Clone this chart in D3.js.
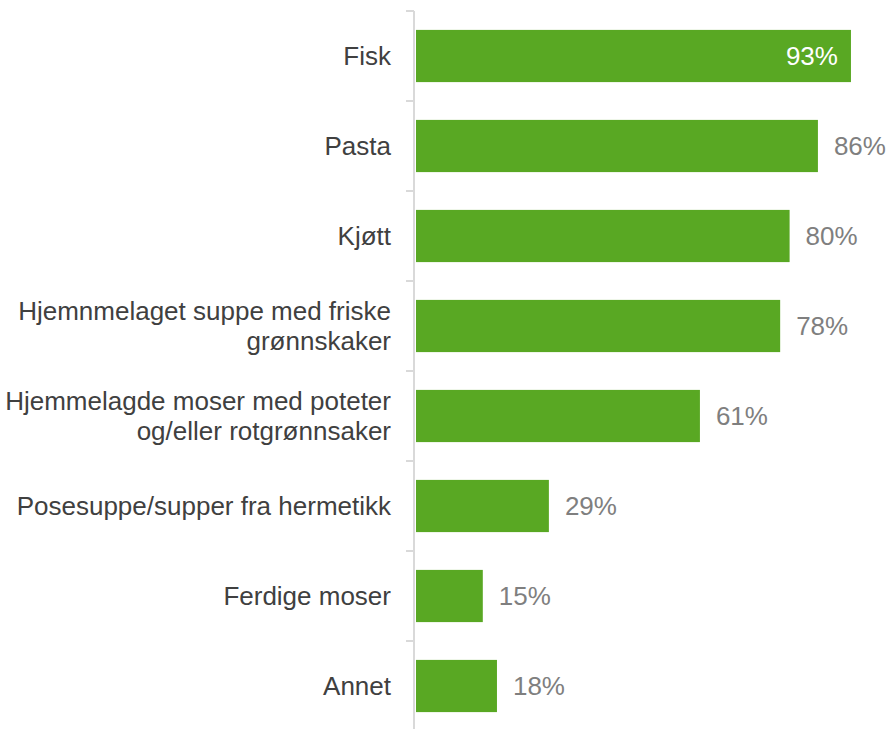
<!DOCTYPE html>
<html>
<head>
<meta charset="utf-8">
<script src="https://cdn.jsdelivr.net/npm/d3@7"></script>
<style>
  html, body { margin: 0; padding: 0; background: #fff; }
  svg { display: block; font-family: "Liberation Sans", Arial, sans-serif; }
</style>
</head>
<body>
<div id="chart"></div>
<script>
// Chart data;
var categories = [
    ["Fisk"],
    ["Pasta"],
    ["Kjøtt"],
    ["Hjemnmelaget suppe med friske", "grønnskaker"],
    ["Hjemmelagde moser med poteter", "og/eller rotgrønnsaker"],
    ["Posesuppe/supper fra hermetikk"],
    ["Ferdige moser"],
    ["Annet"]
]
var values = [93, 86, 80, 78, 61, 29, 15, 18]

// Size of the drawing;
const width = 892
const height = 729
const barColor = "#59a823"
const fontSize = 26

const svg = d3.select("#chart").append("svg")
    .attr("width", width)
    .attr("height", height)

const keys = categories.map((c, i) => i)

const y = d3.scaleBand()
    .domain(keys)
    .range([11, 731])
    .paddingInner(0.42)
    .paddingOuter(0.21)

// Zero sits just under the axis line; bars are drawn from its right edge;
const x = d3.scaleLinear()
    .domain([0, 100])
    .range([412, 884])
const barStart = 416

// Bars;
svg.selectAll("rect.bar")
    .data(values)
    .join("rect")
    .attr("class", "bar")
    .attr("x", barStart)
    .attr("y", (d, i) => y(i))
    .attr("width", d => x(d) - barStart)
    .attr("height", y.bandwidth())
    .attr("fill", barColor)

// Axis line with ticks at band boundaries;
const axisX = 414
svg.append("line")
    .attr("x1", axisX).attr("x2", axisX)
    .attr("y1", y.range()[0]).attr("y2", height)
    .attr("stroke", "#d9d9d9")
    .attr("stroke-width", 2)

const boundaries = keys.map(i => y(i) - y.step() * y.paddingInner() / 2 - (i == 0 ? y.step() * (y.paddingOuter() - y.paddingInner() / 2) : 0))
boundaries.push(y.range()[1])
svg.selectAll("line.tick")
    .data(boundaries)
    .join("line")
    .attr("class", "tick")
    .attr("x1", axisX - 8).attr("x2", axisX)
    .attr("y1", d => d).attr("y2", d => d)
    .attr("stroke", "#d9d9d9")
    .attr("stroke-width", 2)

// Category labels;
const labels = svg.selectAll("text.cat")
    .data(categories)
    .join("text")
    .attr("class", "cat")
    .attr("text-anchor", "end")
    .attr("font-size", fontSize)
    .attr("fill", "#404040")
    .attr("transform", (d, i) => `translate(391, ${y(i) + y.bandwidth() / 2})`)

labels.selectAll("tspan")
    .data(d => d.map((t, j) => ({ t: t, j: j, n: d.length })))
    .join("tspan")
    .attr("x", 0)
    .attr("y", d => (d.j - (d.n - 1) / 2) * 30)
    .attr("dy", "0.35em")
    .text(d => d.t)

// Value labels (inside the bar if it is long);
svg.selectAll("text.val")
    .data(values)
    .join("text")
    .attr("class", "val")
    .attr("font-size", fontSize)
    .attr("dy", "0.35em")
    .attr("y", (d, i) => y(i) + y.bandwidth() / 2)
    .attr("x", d => d > 90 ? x(d) - 13 : x(d) + 16)
    .attr("text-anchor", d => d > 90 ? "end" : "start")
    .attr("fill", d => d > 90 ? "#fff" : "#7f7f7f")
    .text(d => d + "%")
</script>
</body>
</html>
